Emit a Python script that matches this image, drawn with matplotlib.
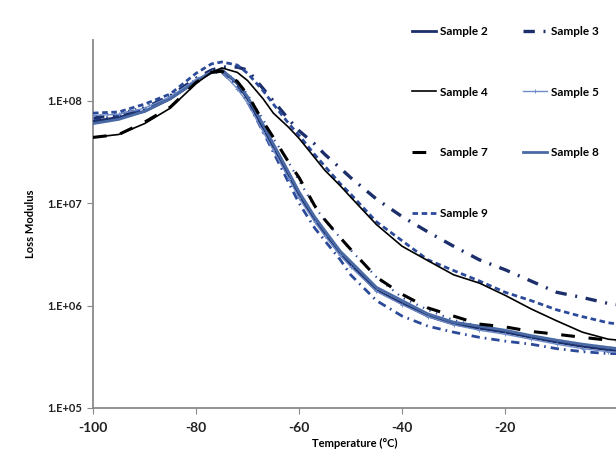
import math

import matplotlib
matplotlib.use("Agg")
import matplotlib.pyplot as plt
from matplotlib.ticker import FixedLocator, FuncFormatter, NullLocator

# ── Data ──────────────────────────────────────────────────────────────────────
temp = [-100, -95, -90, -85, -80, -77, -75, -72, -70, -67, -65, -62, -60, -57,
        -55, -52, -50, -45, -40, -35, -30, -25, -20, -15, -10, -5, 0, 2]

sample2 = [6.3e7, 6.9e7, 7.9e7, 1.05e8, 1.55e8, 1.9e8, 2.0e8, 1.48e8, 1.05e8, 5.5e7,
           3.55e7, 1.86e7, 1.2e7, 6.9e6, 5.0e6, 3.16e6, 2.5e6, 1.41e6, 1.05e6, 7.9e5,
           6.6e5, 6.0e5, 5.5e5, 4.9e5, 4.4e5, 4.0e5, 3.7e5, 3.6e5]
sample3 = [6.9e7, 7.2e7, 8.5e7, 1.12e8, 1.66e8, 2.0e8, 2.14e8, 2.14e8, 2.0e8, 1.32e8,
           1.0e8, 6.6e7, 5.1e7, 3.8e7, 3.0e7, 2.2e7, 1.78e7, 1.1e7, 7.4e6, 5.25e6,
           3.8e6, 2.8e6, 2.24e6, 1.74e6, 1.35e6, 1.2e6, 1.05e6, 1.02e6]
sample4 = [4.4e7, 4.7e7, 6.0e7, 8.5e7, 1.48e8, 1.9e8, 2.1e8, 1.9e8, 1.58e8, 1.05e8,
           7.6e7, 5.5e7, 4.3e7, 2.8e7, 2.1e7, 1.48e7, 1.15e7, 6.2e6, 3.8e6, 2.75e6,
           2.0e6, 1.66e6, 1.26e6, 9.3e5, 7.1e5, 5.5e5, 4.7e5, 4.6e5]
sample5 = [7.2e7, 7.4e7, 8.5e7, 1.1e8, 1.62e8, 1.95e8, 1.9e8, 1.32e8, 9.5e7, 5.0e7,
           3.3e7, 1.74e7, 1.12e7, 6.6e6, 4.8e6, 3.1e6, 2.4e6, 1.38e6, 1.02e6, 7.8e5,
           6.5e5, 5.75e5, 5.25e5, 4.7e5, 4.2e5, 3.8e5, 3.55e5, 3.5e5]
sample7 = [4.4e7, 4.7e7, 6.2e7, 8.7e7, 1.51e8, 1.9e8, 1.95e8, 1.55e8, 1.15e8, 6.3e7,
           4.4e7, 2.5e7, 1.78e7, 9.5e6, 6.9e6, 4.6e6, 3.55e6, 1.9e6, 1.29e6, 9.5e5,
           7.9e5, 6.6e5, 6.2e5, 5.6e5, 5.25e5, 4.9e5, 4.6e5, 4.5e5]
sample8 = [6.0e7, 6.6e7, 7.9e7, 1.05e8, 1.55e8, 1.9e8, 2.0e8, 1.51e8, 1.1e8, 5.9e7,
           3.8e7, 2.0e7, 1.29e7, 7.4e6, 5.4e6, 3.4e6, 2.7e6, 1.51e6, 1.12e6, 8.3e5,
           6.9e5, 6.3e5, 5.75e5, 5.1e5, 4.6e5, 4.2e5, 3.9e5, 3.8e5]
sample9 = [7.6e7, 7.8e7, 9.3e7, 1.17e8, 1.86e8, 2.3e8, 2.4e8, 2.24e8, 1.86e8, 1.26e8,
           9.3e7, 6.0e7, 4.6e7, 3.0e7, 2.3e7, 1.55e7, 1.23e7, 6.6e6, 4.3e6, 2.8e6,
           2.2e6, 1.74e6, 1.35e6, 1.12e6, 9.1e5, 7.8e5, 6.8e5, 6.6e5]
# two more traces visible in the plot whose legend entries are cropped away
extra_dotted = [7.1e7, 7.6e7, 8.7e7, 1.12e8, 1.62e8, 1.95e8, 2.0e8, 1.55e8, 1.15e8, 6.6e7,
                4.3e7, 2.5e7, 1.66e7, 9.3e6, 6.8e6, 4.6e6, 3.5e6, 1.9e6, 1.2e6, 9.1e5,
                7.2e5, 6.3e5, 5.6e5, 5.0e5, 4.6e5, 4.2e5, 3.9e5, 3.8e5]
extra_dashdot = [6.6e7, 7.1e7, 8.3e7, 1.07e8, 1.58e8, 1.9e8, 1.9e8, 1.38e8, 9.8e7, 5.0e7,
                 3.16e7, 1.58e7, 1.0e7, 5.75e6, 4.3e6, 2.8e6, 2.0e6, 1.12e6, 7.9e5, 6.3e5,
                 5.5e5, 4.9e5, 4.5e5, 4.2e5, 3.8e5, 3.55e5, 3.4e5, 3.4e5]

y_ticks = [1e5, 1e6, 1e7, 1e8]
x_ticks = [-100, -80, -60, -40, -20]

NAVY = "#1c2f6b"
BLUE = "#2c4a9a"
STEEL = "#4a6aa6"
LIGHT = "#6f8cc8"

plt.rcParams["font.family"] = ["Lato", "DejaVu Sans"]

# ── Figure ────────────────────────────────────────────────────────────────────
fig = plt.figure(figsize=(6.16, 4.58), dpi=100)
ax = fig.add_axes([93 / 616, 50 / 458, 523 / 616, 368 / 458])

ax.plot(temp, extra_dotted, color=BLUE, lw=1.6, dashes=(0.6, 2.6), zorder=2)
ax.plot(temp, extra_dashdot, color=BLUE, lw=2.0, dashes=(3.0, 1.8, 0.6, 1.8), zorder=2)

l2, = ax.plot(temp, sample2, color=NAVY, lw=2.0, label="Sample 2", zorder=3)
l3, = ax.plot(temp, sample3, color=NAVY, lw=2.4, dashes=(3.4, 2.6, 0.6, 2.6),
              label="Sample 3", zorder=3)
l4, = ax.plot(temp, sample4, color="black", lw=1.2, label="Sample 4", zorder=4)
l5, = ax.plot(temp, sample5, color=LIGHT, lw=1.0, marker="+", ms=3.5, mew=0.7,
              label="Sample 5", zorder=3)
l7, = ax.plot(temp, sample7, color="black", lw=2.2, dashes=(4.5, 4.5),
              label="Sample 7", zorder=4)
l8, = ax.plot(temp, sample8, color=STEEL, lw=2.0, label="Sample 8", zorder=3)
l9, = ax.plot(temp, sample9, color=BLUE, lw=2.0, dashes=(2.0, 1.3),
              label="Sample 9", zorder=3)

ax.set_yscale("log")
ax.set_xlim(-100, 1.5)
ax.set_ylim(1e5, 10 ** 8.595)

ax.yaxis.set_major_locator(FixedLocator(y_ticks))
ax.yaxis.set_minor_locator(NullLocator())
ax.yaxis.set_major_formatter(FuncFormatter(lambda v, p: "1.E+%02d" % round(math.log10(v))))
ax.xaxis.set_major_locator(FixedLocator(x_ticks))
ax.xaxis.set_major_formatter(FuncFormatter(lambda v, p: "%d" % v))

for side in ("top", "right"):
    ax.spines[side].set_visible(False)
for side in ("left", "bottom"):
    ax.spines[side].set_color("#8a8a8a")
    ax.spines[side].set_linewidth(1.3)

ax.tick_params(axis="y", direction="out", length=4, color="#8a8a8a",
               labelsize=8, pad=4)
ax.tick_params(axis="x", direction="out", length=4, color="#8a8a8a",
               labelsize=10, pad=6)
for lbl in ax.get_xticklabels() + ax.get_yticklabels():
    lbl.set_fontweight("bold")
    lbl.set_color("#222222")

ax.set_xlabel("Temperature (°C)", fontsize=8, fontweight="bold", labelpad=3)
ax.set_ylabel("Loss Modulus", fontsize=8, fontweight="bold", labelpad=8)

# ── Legend (two columns, wide row spacing, cut at the right edge) ─────────────
handles = [l2, l4, l7, l9, l3, l5, l8]
fig.legend(handles=handles, labels=[h.get_label() for h in handles],
           ncol=2, loc="upper left", bbox_to_anchor=(412 / 616, 1 - 26 / 458),
           frameon=False, prop={"size": 8.5, "weight": "bold"},
           handlelength=2.0, handletextpad=0.35, columnspacing=3.0,
           labelspacing=4.2, borderpad=0, borderaxespad=0)

plt.savefig("out.png", dpi=100)
plt.close()
